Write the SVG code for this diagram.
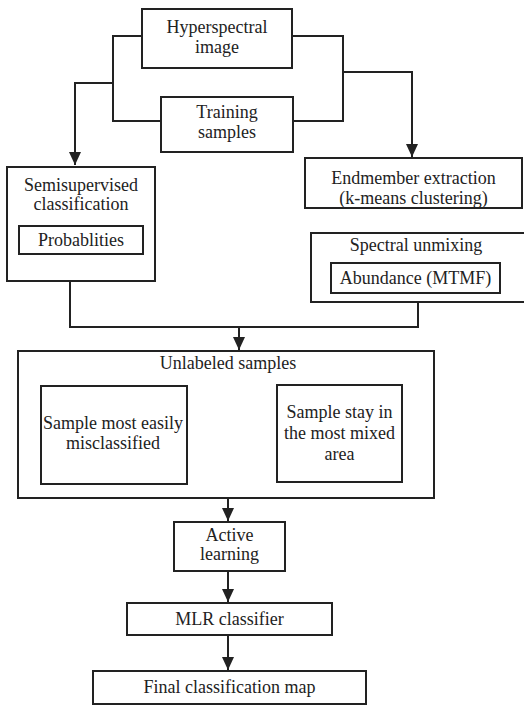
<svg xmlns="http://www.w3.org/2000/svg" width="524" height="705" viewBox="0 0 524 705" font-family="'Liberation Serif', 'Times New Roman', 'DejaVu Serif', serif">
<style>
.box{fill:#fff;stroke:#222;stroke-width:2}
.ln{fill:none;stroke:#222;stroke-width:2}
text{font-family:'Liberation Serif', 'Times New Roman', 'DejaVu Serif', serif;font-size:18px;fill:#222;text-anchor:middle}
</style>
<defs>
<marker id="ah" markerUnits="userSpaceOnUse" markerWidth="14" markerHeight="14" viewBox="0 0 14 14" refX="13" refY="7" orient="auto">
<path d="M0,1 L13,7 L0,13 Z" fill="#222"/>
</marker>
</defs>
<rect width="524" height="705" fill="#fff"/>
<g id="connectors">
<path class="ln" d="M142,36 H113 V121 H161"/>
<path class="ln" d="M292,36 H343 V121 H293"/>
<path class="ln" d="M113,83 H75 V165" marker-end="url(#ah)"/>
<path class="ln" d="M343,72 H412 V157" marker-end="url(#ah)"/>
<path class="ln" d="M70,281 V327 H418 V302"/>
<path class="ln" d="M239,327 V350" marker-end="url(#ah)"/>
<path class="ln" d="M228,498 V521" marker-end="url(#ah)"/>
<path class="ln" d="M228,571 V602" marker-end="url(#ah)"/>
<path class="ln" d="M228,635 V670" marker-end="url(#ah)"/>
</g>
<g id="hyperspectral">
<rect class="box" x="142" y="9" width="150" height="59"/>
<text x="217" y="33">Hyperspectral</text>
<text x="217" y="53">image</text>
</g>
<g id="training">
<rect class="box" x="161" y="97" width="132" height="55"/>
<text x="227" y="118">Training</text>
<text x="227" y="138">samples</text>
</g>
<g id="semisupervised">
<rect class="box" x="7" y="167" width="148" height="114"/>
<text x="81" y="191">Semisupervised</text>
<text x="81" y="210">classification</text>
<g id="probablities">
<rect class="box" x="19" y="226" width="124" height="28"/>
<text x="81" y="246">Probablities</text>
</g>
</g>
<g id="endmember">
<rect class="box" x="305" y="158" width="217" height="50"/>
<text x="413.5" y="184">Endmember extraction</text>
<text x="413.5" y="204">(k-means clustering)</text>
</g>
<g id="spectral">
<rect class="box" x="311" y="233" width="215" height="69"/>
<text x="416" y="251">Spectral unmixing</text>
<g id="abundance">
<rect class="box" x="331" y="263" width="169" height="30"/>
<text x="415.5" y="284">Abundance (MTMF)</text>
</g>
</g>
<g id="unlabeled">
<rect class="box" x="18" y="351" width="416" height="147"/>
<text x="228" y="369">Unlabeled samples</text>
<g id="misclassified">
<rect class="box" x="41" y="386" width="146" height="98"/>
<text x="113" y="429">Sample most easily</text>
<text x="113" y="449">misclassified</text>
</g>
<g id="mixed">
<rect class="box" x="277" y="385" width="125" height="97"/>
<text x="339.5" y="418">Sample stay in</text>
<text x="339.5" y="439">the most mixed</text>
<text x="339.5" y="460">area</text>
</g>
</g>
<g id="active">
<rect class="box" x="174" y="522" width="111" height="49"/>
<text x="229.5" y="541">Active</text>
<text x="229.5" y="560">learning</text>
</g>
<g id="mlr">
<rect class="box" x="127" y="603" width="205" height="32"/>
<text x="229.5" y="625">MLR classifier</text>
</g>
<g id="final">
<rect class="box" x="93" y="671" width="273" height="33"/>
<text x="229.5" y="693">Final classification map</text>
</g>
</svg>
